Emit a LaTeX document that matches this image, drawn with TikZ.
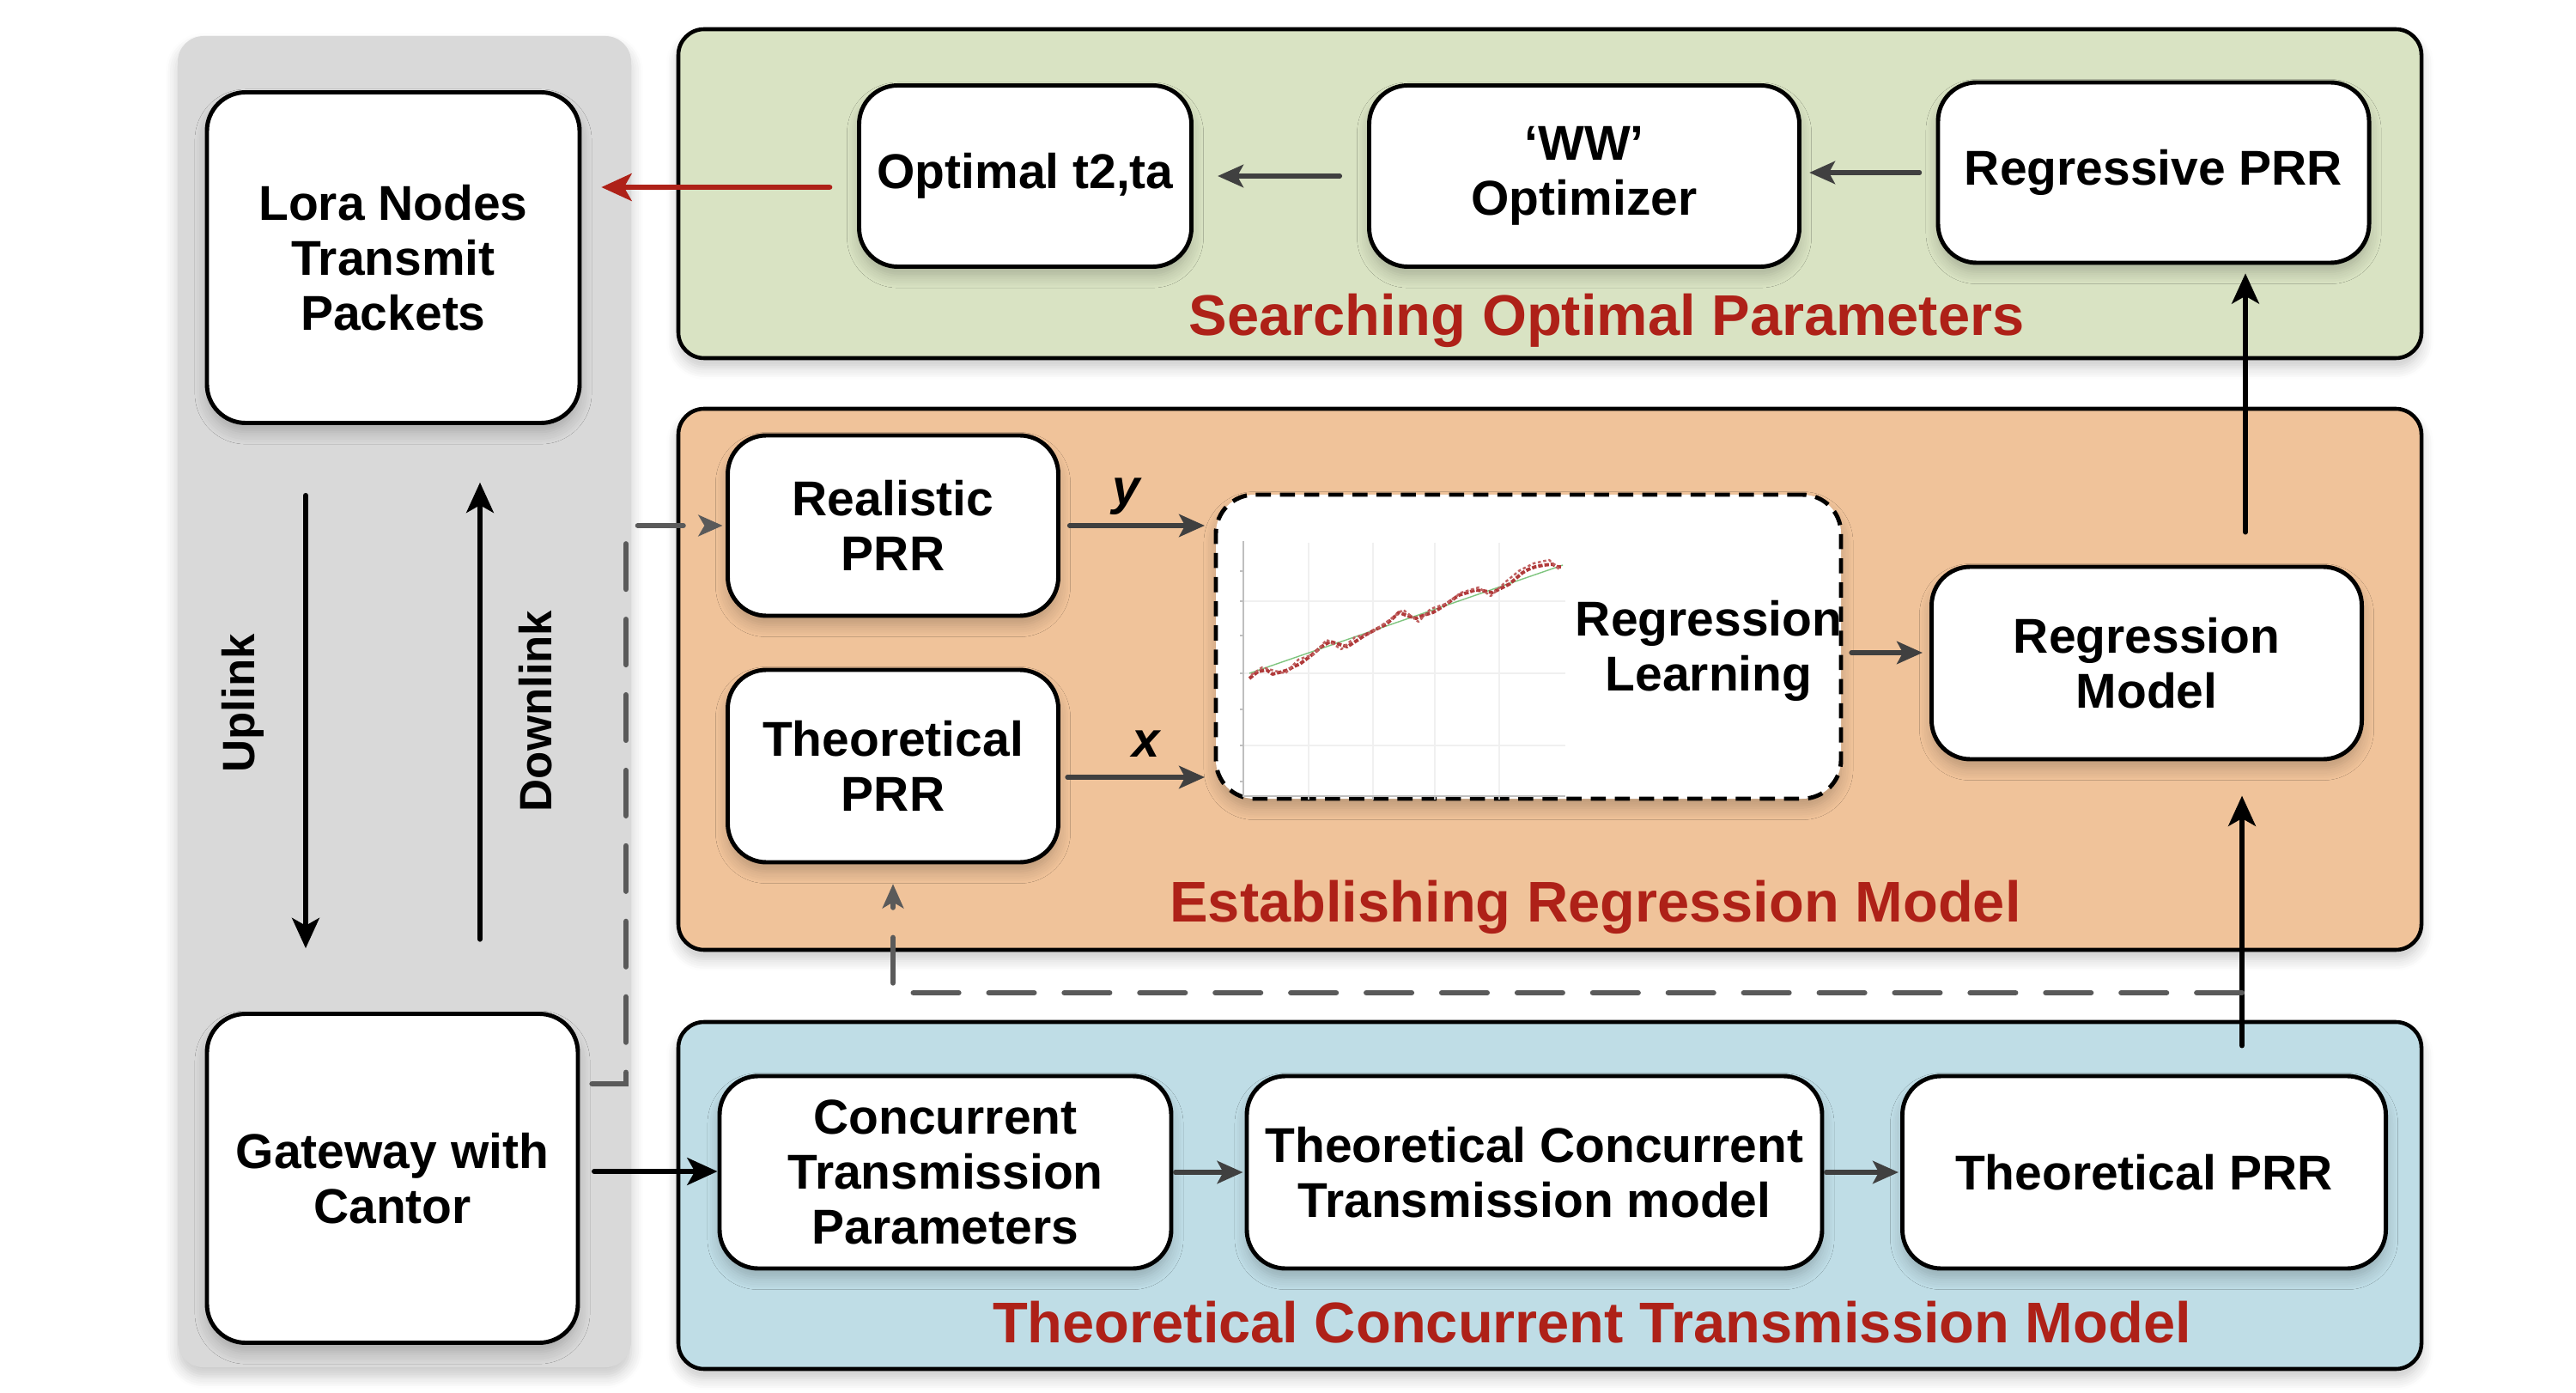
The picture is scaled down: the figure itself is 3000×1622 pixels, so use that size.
\documentclass[tikz,border=0pt]{standalone}
\usepackage{fontspec}
\setmainfont{Liberation Sans}
\usetikzlibrary{arrows.meta,shadows.blur,calc}
\definecolor{graypanel}{HTML}{D9D9D9}
\definecolor{greenpanel}{HTML}{D9E3C3}
\definecolor{orangepanel}{HTML}{F0C39A}
\definecolor{bluepanel}{HTML}{BFDDE6}
\definecolor{titlered}{HTML}{AE2118}
\definecolor{arrgray}{HTML}{404040}
\definecolor{dashgray}{HTML}{5A5A5A}
\definecolor{plotred}{HTML}{B03A3A}
\newcommand\bxf{\fontsize{16.2}{18.3}\selectfont\bfseries}
\newcommand\ulf{\fontsize{15}{18}\selectfont\bfseries}
\newcommand\ttlf{\fontsize{19}{22}\selectfont\bfseries}
\tikzset{
  wh/.style 2 args={minimum width=#1*0.01cm, minimum height=#2*0.01cm},
  softshadow/.style={blur shadow={shadow blur steps=6, shadow xshift=0pt, shadow yshift=-3pt, shadow opacity=22, shadow blur radius=4pt}},
  panel/.style={rectangle, rounded corners=0.3cm, draw=black, line width=1.3pt, inner sep=0pt, softshadow},
  stepbox/.style={rectangle, rounded corners=0.45cm, draw=black, line width=1.4pt, fill=white, align=center, font=\bxf, inner sep=0pt, softshadow},
  ttl/.style={text=titlered, font=\ttlf, inner sep=0pt},
  barr/.style={draw=black, line width=1.7pt, line cap=round, -{Stealth[length=10pt,width=9pt,inset=2.5pt]}},
  garr/.style={draw=arrgray, line width=1.5pt, line cap=round, -{Stealth[length=8.5pt,width=7.5pt,inset=2pt]}},
  redarr/.style={draw=titlered, line width=1.9pt, line cap=round, -{Stealth[length=10pt,width=9pt,inset=2.5pt]}},
  gdash/.style={draw=dashgray, line width=1.8pt, line cap=round, dash pattern=on 15pt off 10pt, -{Stealth[length=8pt,width=7pt,inset=2pt]}},
}
\begin{document}
\begin{tikzpicture}[x=0.01cm, y=-0.01cm]
\useasboundingbox (0,0) rectangle (3000,1622);
% panels
\node[panel, draw=none, fill=graypanel, wh={528}{1550}] (pgray) at (471,817) {};
\node[panel, fill=greenpanel, wh={2030}{383}] (pgreen) at (1805,225.5) {};
\node[panel, fill=orangepanel, wh={2030}{630}] (porange) at (1805,791) {};
\node[panel, fill=bluepanel, wh={2030}{404}] (pblue) at (1805,1392) {};
% left column
\node[stepbox, wh={434}{385}] (lora) at (458,300) {Lora Nodes\\Transmit\\Packets};
\node[stepbox, wh={432}{383}] (gw) at (457,1372) {Gateway with\\Cantor};
\node[font=\ulf, rotate=90] (uplab) at (283,819) {Uplink};
\node[font=\ulf, rotate=90] (downlab) at (624,828) {Downlink};
% top row
\node[stepbox, wh={387}{211}] (opt) at (1194,205) {Optimal t2,ta};
\node[stepbox, wh={501}{211}] (ww) at (1845,205) {‘WW’\\Optimizer};
\node[stepbox, wh={502}{210}] (rpr) at (2508,201) {Regressive PRR};
\node[ttl] (t1) at (1871,373) {Searching Optimal Parameters};
% middle row
\node[stepbox, dash pattern=on 5pt off 3pt, wh={728}{354}] (rl) at (1780,753) {};
\node[stepbox, wh={385}{210}] (rp) at (1040,612) {Realistic\\PRR};
\node[stepbox, wh={385}{224}] (tp) at (1040,892) {Theoretical\\PRR};
\node[stepbox, wh={501}{224}] (rm) at (2500,772) {Regression\\Model};
\node[ttl] (t2) at (1858,1056) {Establishing Regression Model};
% plot inside regression learning
\begin{scope}
\draw[black!6, line width=0.3pt] (1524,632) -- (1524,926) (1599,632) -- (1599,926) (1671,632) -- (1671,926) (1746,632) -- (1746,926);
\draw[black!6, line width=0.3pt] (1448,700) -- (1823,700) (1448,784) -- (1823,784) (1448,868) -- (1823,868);
\draw[black!25, line width=0.5pt] (1448,630) -- (1448,927) -- (1823,927);
\foreach \t in {1524,1599,1671,1746} \draw[black!25, line width=0.4pt] (\t,927) -- (\t,931);
\foreach \t in {665,700,740,784,826,868,910} \draw[black!25, line width=0.4pt] (1444,\t) -- (1448,\t);
\draw[black!45!green, line width=0.4pt, opacity=0.5] (1455,784) -- (1820,658);
\draw[plotred, line width=1.1pt, line join=round, dash pattern=on 1.5pt off 0.6pt] (1455,790) -- (1465,782) -- (1475,780) -- (1482,785) -- (1490,783) -- (1500,780) -- (1507,776) -- (1514,773) -- (1526,764) -- (1539,753) -- (1549,747) -- (1559,750) -- (1569,753) -- (1580,746) -- (1589,740) -- (1602,733) -- (1614,727) -- (1622,720) -- (1629,713) -- (1639,717) -- (1649,720) -- (1659,716) -- (1669,713) -- (1679,707) -- (1689,700) -- (1699,693) -- (1709,690) -- (1718,687) -- (1728,688) -- (1738,690) -- (1748,685) -- (1758,680) -- (1766,673) -- (1773,667) -- (1780,663) -- (1788,660) -- (1798,658) -- (1808,657) -- (1814,660) -- (1820,660);
\draw[plotred!80, line width=0.7pt, line join=round, dash pattern=on 1pt off 0.8pt] (1457,786) -- (1470,777) -- (1484,781) -- (1497,784) -- (1512,768) -- (1530,762) -- (1545,745) -- (1562,756) -- (1578,742) -- (1596,737) -- (1618,722) -- (1634,710) -- (1652,724) -- (1666,709) -- (1684,703) -- (1702,690) -- (1722,684) -- (1736,694) -- (1754,677) -- (1770,664) -- (1786,656) -- (1804,652) -- (1817,664);
\end{scope}
\node[font=\bxf, align=center] (rltext) at (1990,758) {Regression\\Learning};
% bottom row
\node[stepbox, wh={526}{224}] (ctp) at (1101,1365) {Concurrent\\Transmission\\Parameters};
\node[stepbox, wh={670}{224}] (tctm) at (1787,1365) {Theoretical Concurrent\\Transmission model};
\node[stepbox, wh={563}{224}] (tp2) at (2497,1365) {Theoretical PRR};
\node[ttl] (t3) at (1854,1540) {Theoretical Concurrent Transmission Model};
% labels
\node[font=\fontsize{16.5}{18}\selectfont\bfseries\itshape] (ylab) at (1312,578) {y};
\node[font=\fontsize{16.5}{18}\selectfont\bfseries\itshape] (xlab) at (1335,866) {x};
% coordinates
\coordinate (redstart) at (966,218);
\coordinate (u) at (356,0);
\coordinate (d) at (559,0);
\coordinate (xa) at (1243,905);
\coordinate (rla) at (2156,760);
\coordinate (v) at (2611,0);
\coordinate (v2) at (2615,0);
\coordinate (dd) at (2611,1156);
\coordinate (g1) at (729,1262);
\coordinate (gwa) at (692,1364);
% arrows
\draw[redarr, shorten >=6.5pt] (redstart) -- (redstart -| lora.east);
\draw[garr, shorten <=9pt, shorten >=8pt] (ww.west) -- (opt.east);
\draw[garr, shorten <=5.4pt, shorten >=2.6pt] (rpr.west) -- (rpr.west -| ww.east);
\draw[garr, shorten <=3pt, shorten >=3pt] (rp.east) -- (rp.east -| rl.west);
\draw[garr, shorten >=3pt] (xa) -- (xa -| rl.west);
\draw[garr, shorten >=2.3pt] (rla) -- (rla -| rm.west);
\draw[barr, shorten <=23.3pt, shorten >=21pt] (lora.south -| u) -- (gw.north -| u);
\draw[barr, shorten <=24pt, shorten >=19pt] (gw.north -| d) -- (lora.south -| d);
\draw[barr] (gwa) -- (gwa -| ctp.west);
\draw[garr, shorten <=0.6pt, shorten >=0.6pt] (ctp.east) -- (tctm.west);
\draw[garr, shorten <=0.6pt, shorten >=0.6pt] (tctm.east) -- (tp2.west);
\draw[barr, shorten <=9.4pt, shorten >=11.4pt] (tp2.north -| v) -- (rm.south -| v);
\draw[barr, shorten <=10.8pt, shorten >=2.8pt] (rm.north -| v2) -- (rpr.south -| v2);
\draw[gdash, shorten >=6.5pt] (dd) -| (tp.south);
\draw[gdash, shorten <=4pt, shorten >=1pt] (gw.east |- g1) -- (g1) |- (rp.west);
\end{tikzpicture}
\end{document}
